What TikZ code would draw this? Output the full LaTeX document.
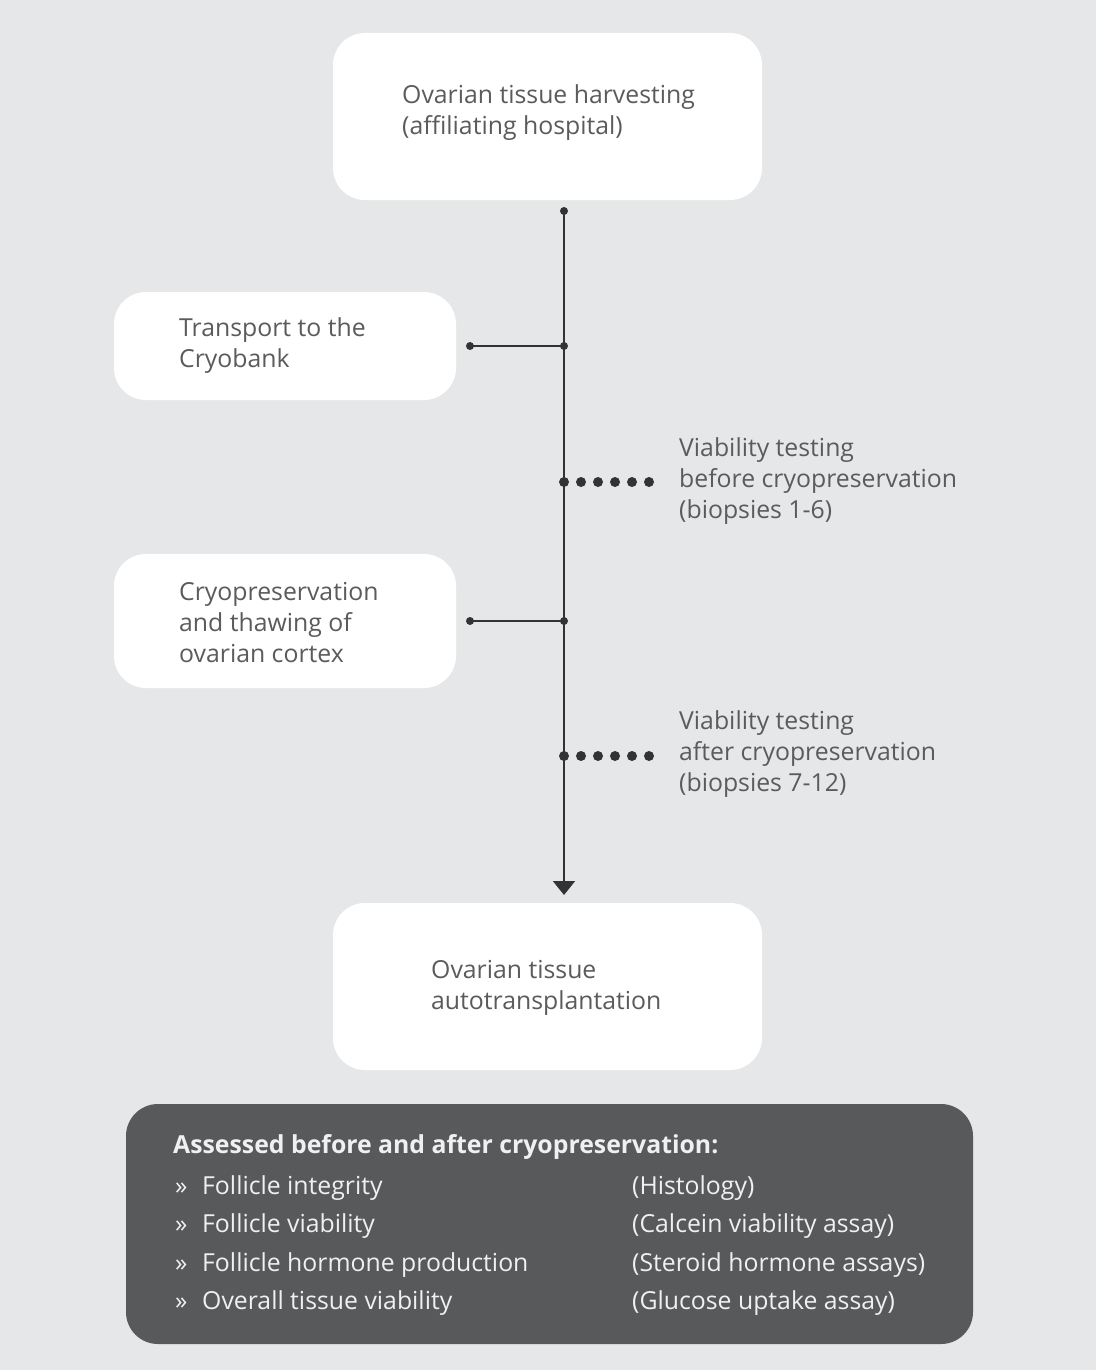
\documentclass[tikz,border=0pt]{standalone}
\usepackage{fontspec}
\setmainfont{Open Sans}
\usetikzlibrary{arrows.meta}
\definecolor{bg}{HTML}{E6E7E8}
\definecolor{dark}{HTML}{58595B}
\definecolor{txt}{HTML}{5A5B5D}
\definecolor{ln}{HTML}{333335}
\definecolor{lt}{HTML}{F0F0F0}
\begin{document}
\begin{tikzpicture}[x=1pt,y=-1pt,
  whitebox/.style={draw=none,fill=white,rounded corners=32pt,inner sep=0pt},
  lbl/.style={text=txt,font=\fontsize{24.8}{31}\selectfont,align=left,inner sep=0pt,anchor=west},
  conn/.style={draw=ln,line width=2pt},
  enddot/.style={circle,fill=ln,inner sep=0pt,minimum size=8pt},
  bigdot/.style={circle,fill=ln,inner sep=0pt,minimum size=10pt},
  item/.style={text=lt,font=\fontsize{24.8}{31}\selectfont,inner sep=0pt,anchor=base west},
  title/.style={text=lt,font=\fontsize{24.8}{31}\selectfont\bfseries,inner sep=0pt,anchor=base west}]
\fill[bg] (0,0) rectangle (1096,1370);
\useasboundingbox (0,0) rectangle (1096,1370);
% white boxes
\node[whitebox,minimum width=429pt,minimum height=167pt] (b1) at (547.5,116.5) {};
\node[whitebox,minimum width=342pt,minimum height=108pt] (b2) at (285,346) {};
\node[whitebox,minimum width=342pt,minimum height=134pt] (b3) at (285,621) {};
\node[whitebox,minimum width=429pt,minimum height=167pt] (b4) at (547.5,986.5) {};
\node[lbl] (t1) at (402,113) {Ovarian tissue harvesting\\(affiliating hospital)};
\node[lbl] (t2) at (179,346) {Transport to the\\Cryobank};
\node[lbl] (t3) at (179,623) {Cryopreservation\\and thawing of\\ovarian cortex};
\node[lbl] (t4) at (431,987.5) {Ovarian tissue\\autotransplantation};
\node[lbl] (v1) at (679,481) {Viability testing\\before cryopreservation\\(biopsies 1-6)};
\node[lbl] (v2) at (679,754) {Viability testing\\after cryopreservation\\(biopsies 7-12)};
% connectors
\coordinate (top) at (564,211);
\coordinate (bot) at (564,895);
\coordinate (j2) at (564,346);
\coordinate (e2) at (470,346);
\coordinate (j3) at (564,621);
\coordinate (e3) at (470,621);
\draw[conn,-{Triangle[width=22pt,length=14pt]}] (top) -- (bot);
\draw[conn] (e2) -- (j2);
\draw[conn] (e3) -- (j3);
\node[enddot] (dtop) at (top) {};
\node[enddot] (dj2) at (j2) {};
\node[enddot] (de2) at (e2) {};
\node[enddot] (dj3) at (j3) {};
\node[enddot] (de3) at (e3) {};
\foreach \x [count=\i] in {564,581,598,615,632,649}{
  \node[bigdot] (pa\i) at (\x,482) {};
  \node[bigdot] (pb\i) at (\x,756) {};
}
% dark box
\node[fill=dark,rounded corners=32pt,minimum width=847pt,minimum height=240pt,inner sep=0pt] (db) at (549.5,1224) {};
\node[title] (ttl) at (173,1153) {Assessed before and after cryopreservation:};
\foreach \y/\a/\b [count=\i] in {1194/Follicle integrity/(Histology),1232/Follicle viability/(Calcein viability assay),1271/Follicle hormone production/(Steroid hormone assays),1309/Overall tissue viability/(Glucose uptake assay)}{
  \node[item] (q\i) at (175,\y) {»};
  \node[item] (l\i) at (202,\y) {\a};
  \node[item] (r\i) at (632,\y) {\b};
}
\end{tikzpicture}
\end{document}
